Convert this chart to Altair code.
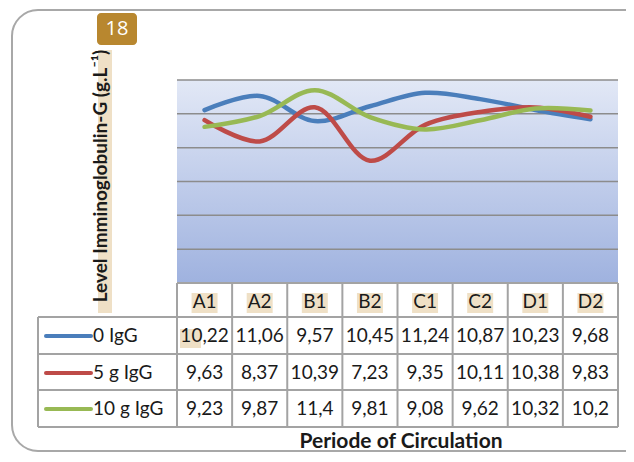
import altair as alt
import pandas as pd

cats = ["A1", "A2", "B1", "B2", "C1", "C2", "D1", "D2"]
series = ["0 IgG", "5 g IgG", "10 g IgG"]
igg0 = [10.22, 11.06, 9.57, 10.45, 11.24, 10.87, 10.23, 9.68]
igg5 = [9.63, 8.37, 10.39, 7.23, 9.35, 10.11, 10.38, 9.83]
igg10 = [9.23, 9.87, 11.4, 9.81, 9.08, 9.62, 10.32, 10.2]
colors = ["#4a7ebb", "#be4b48", "#98b954"]
grid_vals = [2, 4, 6, 8, 10, 12]
y_title = "Level Imminoglobulin-G (g.L\u207b\u00b9)"
x_title = "Periode of Circulation"
badge = "18"

W, H = 441, 203
FONT = "Lato"
GRID = "#a3a3a3"
TAN = "#efe0c6"

rows = []
for s, vals in zip(series, [igg0, igg5, igg10]):
    for c, v in zip(cats, vals):
        rows.append({"cat": c, "series": s, "val": v,
                     "label": f"{v:g}".replace(".", ",")})
df = pd.DataFrame(rows)
cat_df = pd.DataFrame({"cat": cats})
one = pd.DataFrame({"k": [0]})

xs = alt.Scale(type="band", domain=cats, paddingInner=0, paddingOuter=0)
ys = alt.Scale(domain=[0, 12])
X = alt.X("cat:N", scale=xs, axis=None)

frame = alt.Chart(one).mark_rect(fillOpacity=0, stroke="#a8a8a8", strokeWidth=2,
                                 cornerRadius=26).encode(
    x=alt.value(-165), x2=alt.value(520), y=alt.value(-70), y2=alt.value(371))

badge_rect = alt.Chart(one).mark_rect(fill="#b8872f", cornerRadius=4).encode(
    x=alt.value(-80), x2=alt.value(-40), y=alt.value(-67), y2=alt.value(-35))
badge_txt = alt.Chart(one).mark_text(font="Open Sans", fontSize=20, color="white").encode(
    x=alt.value(-60), y=alt.value(-51), text=alt.value(badge))

ytitle_bg = alt.Chart(one).mark_rect(fill=TAN).encode(
    x=alt.value(-79), x2=alt.value(-65), y=alt.value(-30), y2=alt.value(233))
ytitle = alt.Chart(one).mark_text(font=FONT, fontSize=19, fontWeight="bold",
                                  angle=270, baseline="middle", color="#1a1a1a").encode(
    x=alt.value(-76), y=alt.value(96), text=alt.value(y_title))

plot_bg = alt.Chart(one).mark_rect(
    fill=alt.Gradient(gradient="linear",
                      stops=[alt.GradientStop(color="#e2e8f6", offset=0),
                             alt.GradientStop(color="#9fb2df", offset=1)],
                      x1=0, x2=0, y1=0, y2=1)).encode(
    x=alt.value(0), x2=alt.value(W), y=alt.value(0), y2=alt.value(H))

grid = alt.Chart(pd.DataFrame({"g": grid_vals})).mark_rule(
    color="#8c8c8c", strokeWidth=1.5).encode(
    x=alt.value(0), x2=alt.value(W), y=alt.Y("g:Q", scale=ys, axis=None))

# table grid
vlines = alt.Chart(cat_df).mark_rule(color=GRID, strokeWidth=2).encode(
    x=alt.X("cat:N", scale=xs, axis=None, bandPosition=0),
    y=alt.value(H), y2=alt.value(347))
vright = alt.Chart(one).mark_rule(color=GRID, strokeWidth=2).encode(
    x=alt.value(W), y=alt.value(H), y2=alt.value(347))
vleft = alt.Chart(one).mark_rule(color=GRID, strokeWidth=2).encode(
    x=alt.value(-139), y=alt.value(237), y2=alt.value(347))
hlines = alt.Chart(pd.DataFrame({"yy": [237, 274, 310, 347]})).mark_rule(
    color=GRID, strokeWidth=2).encode(
    x=alt.value(-139), x2=alt.value(W), y=alt.Y("yy:Q", scale=None, axis=None))
htop = alt.Chart(one).mark_rule(color=GRID, strokeWidth=2).encode(
    x=alt.value(0), x2=alt.value(W), y=alt.value(H))

head_bg = alt.Chart(cat_df).mark_bar(fill=TAN, width=26).encode(
    x=X, y=alt.value(213), y2=alt.value(233))
cell_bg = alt.Chart(one).mark_rect(fill=TAN).encode(
    x=alt.value(3), x2=alt.value(24), y=alt.value(249), y2=alt.value(268))
head_txt = alt.Chart(cat_df).mark_text(font=FONT, fontSize=19, color="#1a1a1a").encode(
    x=X, y=alt.value(222), text="cat:N")

row_y = [256, 293, 329]
cells = []
legend_parts = []
for s, yy, col in zip(series, row_y, colors):
    sub = df[df.series == s]
    cells.append(alt.Chart(sub).mark_text(font=FONT, fontSize=19, color="#1a1a1a").encode(
        x=X, y=alt.value(yy), text="label:N"))
    sdf = pd.DataFrame({"series": [s]})
    legend_parts.append(alt.Chart(sdf).mark_rule(color=col, strokeWidth=4, strokeCap="round").encode(
        x=alt.value(-131), x2=alt.value(-86), y=alt.value(yy)))
    legend_parts.append(alt.Chart(sdf).mark_text(font=FONT, fontSize=19, align="left",
                                                  color="#1a1a1a").encode(
        x=alt.value(-84), y=alt.value(yy), text="series:N"))

xtitle = alt.Chart(one).mark_text(font=FONT, fontSize=21, fontWeight="bold",
                                  color="#1a1a1a").encode(
    x=alt.value(224), y=alt.value(362), text=alt.value(x_title))

lines = alt.Chart(df).mark_line(strokeWidth=4.5, interpolate="catmull-rom",
                                strokeCap="round").encode(
    x=X, y=alt.Y("val:Q", scale=ys, axis=None),
    color=alt.Color("series:N", scale=alt.Scale(domain=series, range=colors), legend=None),
    detail="series:N")

chart = alt.layer(
    frame, badge_rect, badge_txt, ytitle_bg, ytitle, plot_bg, grid,
    head_bg, cell_bg, vlines, vright, vleft, hlines, htop, head_txt,
    *cells, *legend_parts, xtitle, lines
).properties(
    width=W, height=H,
    autosize=alt.AutoSizeParams(type="none"),
    padding={"left": 169, "top": 72, "right": 8, "bottom": 170},
).configure_view(stroke=None).resolve_scale(color="independent")

chart.save("out.html", embed_options={"renderer": "svg", "actions": False})
